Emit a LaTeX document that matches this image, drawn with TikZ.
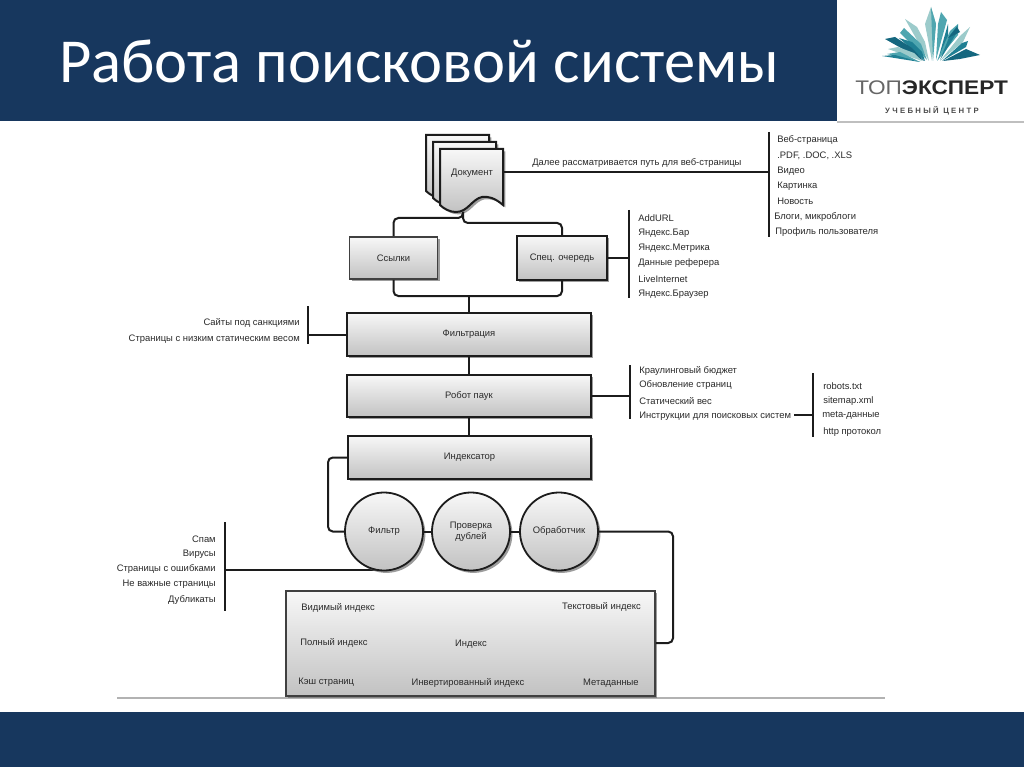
\documentclass[tikz,border=0pt]{standalone}
\usepackage{fontspec}
\setmainfont{Liberation Sans}
\newfontfamily\titlefont{Carlito}
\newfontfamily\spacedfont[LetterSpace=30]{Liberation Sans}
\usetikzlibrary{shadows}
\definecolor{band}{HTML}{17375E}
\definecolor{ink}{HTML}{1C1C1C}
\definecolor{txt}{HTML}{2A2A2A}
\definecolor{tealA}{HTML}{1F7F93}
\definecolor{tealB}{HTML}{4FA6B0}
\definecolor{tealC}{HTML}{9CCBCB}
\definecolor{tealD}{HTML}{15677F}
\tikzset{
  x=0.025cm,y=-0.025cm,
  shadowed/.style={drop shadow={shadow xshift=0.06cm,shadow yshift=-0.06cm,fill=black!55,opacity=.7}},
  boxbase/.style={shadowed,top color=black!3,bottom color=black!24,draw=ink,align=center,inner sep=0pt,font=\fontsize{6.7pt}{8pt}\selectfont,text=txt},
  thinbox/.style={boxbase,line width=0.035cm},
  thickbox/.style={boxbase,line width=0.055cm},
  softbox/.style={boxbase,draw=black!75,line width=0.04cm},
  roundnode/.style={boxbase,circle,line width=0.045cm,minimum size=1.95cm},
  conn/.style={draw=ink,line width=0.05cm,rounded corners=0.12cm},
  bracket/.style={draw=ink,line width=0.045cm},
  lab/.style={inner sep=0pt,yshift=-0.025cm,font=\fontsize{6.7pt}{8pt}\selectfont,text=txt},
  labl/.style={lab,anchor=west},
  labr/.style={lab,anchor=east},
  page/.style={shadowed,top color=black!3,bottom color=black!24,draw=ink,line width=0.05cm},
  shard/.style={draw=none}
}
\newcommand{\docshape}{(440,149) -- (503,149) -- (503,205) .. controls (495,198) and (488,196) .. (482,197) .. controls (472,199) and (468,212) .. (456,212) .. controls (450,212) and (444,209) .. (440,205) -- cycle}
\begin{document}
\begin{tikzpicture}
\useasboundingbox (0,0) rectangle (1024,767);
\fill[white] (0,0) rectangle (1024,767);
% bands
\fill[band] (0,0) rectangle (837,121);
\fill[band] (0,712) rectangle (1024,767);
\draw[black!25,line width=0.03cm] (837,122) -- (1024,122);
\draw[black!30,line width=0.03cm] (117,698) -- (885,698);
\node[anchor=base west,inner sep=0pt,text=white,font=\titlefont\fontsize{44.5pt}{48pt}\selectfont] (title) at (59,82.5) {Работа поисковой системы};
% logo
\fill[tealC,shard] (932,61) -- (925,24) -- (931,7) -- (936,24) -- cycle;
\fill[tealB,shard] (933,61) -- (931,7) -- (936,24) -- cycle;
\fill[tealB,shard] (936,60) -- (938,24) -- (941,12) -- (947,20) -- (942,38) -- cycle;
\fill[tealA,shard] (938,60) -- (944,38) -- (948,24) -- (948,38) -- cycle;
\fill[tealC,shard] (929,61) -- (905,19) -- (917,27) -- (925,42) -- cycle;
\fill[tealB,shard] (927,60) -- (900,33) -- (904,28) -- (921,44) -- cycle;
\fill[tealA,shard] (925,61) -- (899,38) -- (912,42) -- (922,52) -- cycle;
\fill[tealD,shard] (924,61) -- (885,39) -- (895,37) -- (912,48) -- cycle;
\fill[tealC,shard] (922,61) -- (888,49) -- (898,47) -- (914,53) -- cycle;
\fill[tealB,shard] (920,62) -- (887,54) -- (900,52) -- cycle;
\fill[tealA,shard] (920,62) -- (882,56) -- (895,55) -- cycle;
\fill[tealB,shard] (937,61) -- (950,31) -- (958,24) -- (958,35) -- cycle;
\fill[tealA,shard] (940,60) -- (950,35) -- (958,25) -- (956,34) -- cycle;
\fill[tealD,shard] (948,38) -- (957,27) -- (960,32) -- cycle;
\fill[tealC,shard] (940,61) -- (960,36) -- (970,27) -- (963,42) -- cycle;
\fill[tealA,shard] (942,61) -- (962,43) -- (968,41) -- (966,47) -- cycle;
\fill[tealD,shard] (943,61) -- (966,49) -- (980,55) -- (960,59) -- cycle;
\node[anchor=base west,inner sep=0pt,font=\fontsize{14pt}{16pt}\selectfont] (logoa) at (855,95) {\scalebox{1.15}[1]{\textcolor{black!60}{ТОП}\textcolor{black!85}{\textbf{ЭКСПЕРТ}}}};
\node[anchor=center,inner sep=0pt,text=black!70,font=\spacedfont\bfseries\fontsize{5.5pt}{6pt}\selectfont] (logob) at (932,111) {УЧЕБНЫЙ ЦЕНТР};
% document stack
\path[page] [shift={(-14,-14)}] \docshape;
\path[page] [shift={(-7,-7)}] \docshape;
\path[page] \docshape;
\node[inner sep=0pt,minimum width=63*0.025cm,minimum height=46*0.025cm] (doc) at (471.5,172) {};
\node[lab] (doclabel) at (472,172) {Документ};
\coordinate (docbot) at (463,212);
% boxes
\node[softbox,minimum width=88*0.025cm,minimum height=42*0.025cm] (ssylki) at (393.5,258) {Ссылки};
\node[thickbox,minimum width=90*0.025cm,minimum height=44*0.025cm] (spec) at (562,258) {Спец. очередь};
\node[thickbox,minimum width=244*0.025cm,minimum height=43*0.025cm] (filtr) at (469,334.5) {\raisebox{-0.7pt}{Фильтрация}};
\node[thickbox,minimum width=244*0.025cm,minimum height=42*0.025cm] (robot) at (469,396) {\raisebox{-0.7pt}{Робот паук}};
\node[thickbox,minimum width=243*0.025cm,minimum height=43*0.025cm] (indexer) at (469.5,457.5) {\raisebox{-0.7pt}{Индексатор}};
\coordinate (b6m) at (225,569.5);
\draw[conn] (b6m) -- (384,569.5);
\node[roundnode] (c1) at (384,531.5) {Фильтр};
\node[roundnode] (c2) at (471,531.5) {Проверка\\[-0.5pt]дублей};
\node[roundnode] (c3) at (559,531.5) {Обработчик};
\node[softbox,minimum width=369*0.025cm,minimum height=105*0.025cm] (index) at (470.5,643.5) {};
% connectors
\coordinate (j1) at (469,296);
\draw[conn] (docbot) |- (ssylki.north |- 0,218) -- (ssylki.north);
\draw[conn] (docbot) |- (spec.north |- 0,223) -- (spec.north);
\draw[conn] (ssylki.south) |- (j1);
\draw[conn] (spec.south) |- (j1);
\draw[conn] (j1) -- (j1 |- filtr.north);
\draw[conn] (filtr.south) -- (robot.north);
\draw[conn] (robot.south) -- (robot.south |- indexer.north);
\draw[conn] (indexer.west) -| (328,500) |- (c1.west);
\draw[conn] (c1.east) -- (c2.west);
\draw[conn] (c2.east) -- (c3.west);
\draw[conn] (c3.east) -| (673,600) |- (index.east |- 0,643);
% document list
\coordinate (b1t) at (769,132); \coordinate (b1b) at (769,237); \coordinate (b1m) at (769,172);
\draw[conn] (doc.east) -- (b1m);
\draw[bracket] (b1t) -- (b1b);
\node[labl] (dl) at (532,162) {Далее рассматривается путь для веб-страницы};
\node[labl] (l1) at (777,139) {Веб-страница};
\node[labl] (l2) at (777,155) {.PDF, .DOC, .XLS};
\node[labl] (l3) at (777,170) {Видео};
\node[labl] (l4) at (777,185) {Картинка};
\node[labl] (l5) at (777,200) {Новость};
\node[labl] (l6) at (774,216) {Блоги, микроблоги};
\node[labl] (l7) at (775,231) {Профиль пользователя};
% spec list
\coordinate (b2t) at (629,210); \coordinate (b2b) at (629,298); \coordinate (b2m) at (629,258);
\draw[conn] (spec.east) -- (b2m);
\draw[bracket] (b2t) -- (b2b);
\node[labl] (s1) at (638,217) {AddURL};
\node[labl] (s2) at (638,232) {Яндекс.Бар};
\node[labl] (s3) at (638,247) {Яндекс.Метрика};
\node[labl] (s4) at (638,262) {Данные реферера};
\node[labl] (s5) at (638,278) {LiveInternet};
\node[labl] (s6) at (638,293) {Яндекс.Браузер};
% filter list
\coordinate (b3t) at (308,306); \coordinate (b3b) at (308,344); \coordinate (b3m) at (308,334.5);
\draw[conn] (filtr.west) -- (b3m);
\draw[bracket] (b3t) -- (b3b);
\node[labr] (f1) at (300,322) {Сайты под санкциями};
\node[labr] (f2) at (300,338) {Страницы с низким статическим весом};
% robot list
\coordinate (b4t) at (630,365); \coordinate (b4b) at (630,419); \coordinate (b4m) at (630,396);
\draw[conn] (robot.east) -- (b4m);
\draw[bracket] (b4t) -- (b4b);
\node[labl] (r1) at (639,370) {Краулинговый бюджет};
\node[labl] (r2) at (639,384) {Обновление страниц};
\node[labl] (r3) at (639,400) {Статический вес};
\node[labl] (r4) at (639,415) {Инструкции для поисковых систем};
\coordinate (b5t) at (813,373); \coordinate (b5b) at (813,437); \coordinate (b5m) at (813,415);
\draw[bracket] (r4.east) ++(3,-1) -- (b5m);
\draw[bracket] (b5t) -- (b5b);
\node[labl] (p1) at (823,385) {robots.txt};
\node[labl] (p2) at (823,400) {sitemap.xml};
\node[labl] (p3) at (822,414) {meta-данные};
\node[labl] (p4) at (823,431) {http протокол};
% spam list
\coordinate (b6t) at (225,522); \coordinate (b6b) at (225,611);
\draw[bracket] (b6t) -- (b6b);
\node[labr] (m1) at (216,538) {Спам};
\node[labr] (m2) at (216,553) {Вирусы};
\node[labr] (m3) at (216,568) {Страницы с ошибками};
\node[labr] (m4) at (216,583) {Не важные страницы};
\node[labr] (m5) at (216,599) {Дубликаты};
% index labels
\node[labl] (i1) at (301,607) {Видимый индекс};
\node[labl] (i2) at (300,642) {Полный индекс};
\node[labl] (i3) at (298,681) {Кэш страниц};
\node[labr] (i4) at (641,606) {Текстовый индекс};
\node[lab] (i5) at (471,643) {Индекс};
\node[lab] (i6) at (468,682) {Инвертированный индекс};
\node[labr] (i7) at (639,682) {Метаданные};
\end{tikzpicture}
\end{document}
